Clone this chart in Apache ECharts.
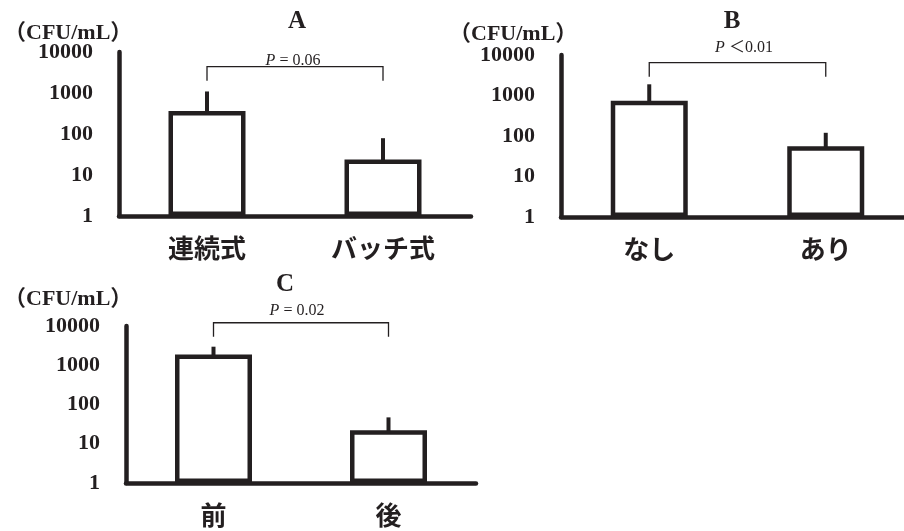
<!DOCTYPE html>
<html><head><meta charset="utf-8">
<script src="https://cdn.jsdelivr.net/npm/echarts@6/dist/echarts.min.js"></script>
<style>html,body{margin:0;padding:0;background:#fff}#c{width:904px;height:531px}</style>
</head><body><div id="c"></div>
<script>
// ---- data ----
const catsA = ['連続式', 'バッチ式'];
const meanA = [364, 24];
const upperA = [1090, 79];
const bracketA = [4400, 2000];      // bracket top value, leg-end value
const pTextA = '{i|P} = 0.06';

const catsB = ['なし', 'あり'];
const meanB = [741, 56];
const upperB = [1890, 120];
const bracketB = [6500, 2920];
const pTextB = '{i|P} ＜0.01';

const catsC = ['前', '後'];
const meanC = [1880, 22];
const upperC = [2970, 47];
const bracketC = [12100, 5340];
const pTextC = '{i|P} = 0.02';

const yTickLabels = ['1', '10', '100', '1000', '10000'];
const panelTitles = ['A', 'B', 'C'];
const unitLabel = '（CFU/mL）';

// ---- styles ----
const INK = '#231f20';
const SERIF = '"Liberation Serif", "Times New Roman", "Noto Sans CJK JP", serif';
const CJK = '"Noto Sans CJK JP", sans-serif';

const panels = [
  { cats: catsA, mean: meanA, upper: upperA, bracket: bracketA, grid: { left: 119, top: 52, width: 352, height: 164 } },
  { cats: catsB, mean: meanB, upper: upperB, bracket: bracketB, grid: { left: 561, top: 55, width: 353, height: 162 } },
  { cats: catsC, mean: meanC, upper: upperC, bracket: bracketC, grid: { left: 126, top: 326, width: 350, height: 157 } }
];

const grids = [], xAxes = [], yAxes = [], series = [];
panels.forEach((p, i) => {
  grids.push(Object.assign({ containLabel: false, outerBoundsMode: 'none' }, p.grid));
  xAxes.push({
    type: 'category', gridIndex: i, data: p.cats,
    axisLine: { onZero: false, lineStyle: { color: INK, width: 4.5 } },
    axisTick: { show: false },
    axisLabel: { color: INK, fontFamily: CJK, fontWeight: 'bold', fontSize: 26, margin: 19 }
  });
  yAxes.push({
    type: 'log', logBase: 10, min: 1, max: 10000, gridIndex: i,
    axisLine: { show: true, lineStyle: { color: INK, width: 4.5 } },
    axisTick: { show: false },
    splitLine: { show: false },
    axisLabel: {
      color: INK, fontFamily: SERIF, fontWeight: 'bold', fontSize: 22, margin: 26,
      padding: [6, 0, 0, 0],
      formatter: v => { const k = Math.round(Math.log10(v)); return yTickLabels[k] !== undefined ? yTickLabels[k] : ''; }
    }
  });
  series.push({
    type: 'custom', xAxisIndex: i, yAxisIndex: i, z: 1, silent: true,
    data: p.mean.map((m, j) => [j, m, p.upper[j]]),
    encode: { x: 0, y: [1, 2] },
    renderItem: (params, api) => {
      const x = api.value(0);
      const a = api.coord([x, api.value(1)]);
      const b = api.coord([x, api.value(2)]);
      return { type: 'line', shape: { x1: a[0], y1: a[1] + 4, x2: b[0], y2: b[1] }, style: { stroke: INK, lineWidth: 4 } };
    }
  });
  series.push({
    type: 'bar', xAxisIndex: i, yAxisIndex: i, z: 3, silent: true,
    data: p.mean, barWidth: 77,
    itemStyle: { color: '#ffffff', borderColor: INK, borderWidth: 4.5 }
  });
  series.push({
    type: 'custom', xAxisIndex: i, yAxisIndex: i, z: 4, silent: true,
    data: [[0, 1, p.bracket[0], p.bracket[1]]],
    encode: { x: [0, 1], y: [2, 3] },
    renderItem: (params, api) => {
      const top = api.value(2), leg = api.value(3);
      const p1 = api.coord([api.value(0), leg]);
      const p2 = api.coord([api.value(0), top]);
      const p3 = api.coord([api.value(1), top]);
      const p4 = api.coord([api.value(1), leg]);
      return { type: 'polyline', shape: { points: [p1, p2, p3, p4] }, style: { stroke: INK, lineWidth: 1.3, fill: null } };
    }
  });
});

function txt(x, y, text, font, align) {
  return { type: 'text', x: x, y: y, silent: true,
    style: { text: text, fill: INK, font: font, align: align || 'center', verticalAlign: 'middle' } };
}
function ptxt(x, y, text) {
  return { type: 'text', x: x, y: y, silent: true,
    style: { text: text, fill: INK, fontFamily: SERIF, fontSize: 16, align: 'center', verticalAlign: 'middle',
      rich: { i: { fontStyle: 'italic', fontFamily: SERIF, fontSize: 16, fill: INK } } } };
}

const graphic = [
  txt(297, 22, panelTitles[0], 'bold 25px ' + SERIF),
  txt(732, 22, panelTitles[1], 'bold 25px ' + SERIF),
  txt(285, 285, panelTitles[2], 'bold 25px ' + SERIF),
  txt(4, 33, unitLabel, 'bold 22px ' + SERIF, 'left'),
  txt(449, 34, unitLabel, 'bold 22px ' + SERIF, 'left'),
  txt(4, 299, unitLabel, 'bold 22px ' + SERIF, 'left'),
  ptxt(293, 61, pTextA),
  ptxt(744, 48, pTextB),
  ptxt(297, 311, pTextC)
];

const chart = echarts.init(document.getElementById('c'));
chart.setOption({
  animation: false,
  backgroundColor: '#ffffff',
  grid: grids, xAxis: xAxes, yAxis: yAxes, series: series, graphic: graphic
});
</script>
</body></html>
